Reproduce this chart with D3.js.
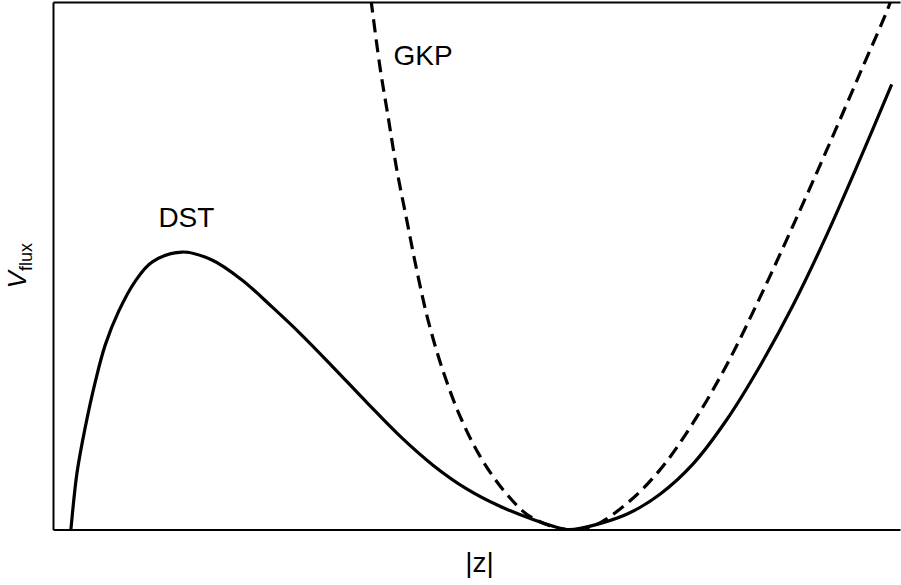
<!DOCTYPE html>
<html>
<head>
<meta charset="utf-8">
<script src="https://cdn.jsdelivr.net/npm/d3@7"></script>
<style>
  html, body { margin: 0; padding: 0; background: #fff; }
  svg { display: block; }
  text { font-family: "Liberation Sans", Arial, Helvetica, sans-serif; fill: #000; }
</style>
</head>
<body>
<script>
// Flux potential V_flux against |z| (arbitrary units, no ticks)
const dstZ = [0.0195, 0.0213, 0.0283, 0.0381, 0.0499, 0.0617, 0.0776, 0.0972, 0.1169, 0.1523,
              0.1877, 0.2231, 0.2586, 0.2916, 0.3306, 0.3704, 0.4097, 0.4486, 0.4884, 0.5277,
              0.5667, 0.6063, 0.6222, 0.6773, 0.7166, 0.7560, 0.7954, 0.8347, 0.8740, 0.9134,
              0.9528, 0.9902];
const dstV = [-0.029, 0.003, 0.107, 0.194, 0.280, 0.350, 0.414, 0.471, 0.507, 0.526,
              0.511, 0.473, 0.422, 0.372, 0.308, 0.241, 0.177, 0.122, 0.077, 0.044,
              0.019, 0.000, 0.002, 0.029, 0.067, 0.125, 0.208, 0.310, 0.426, 0.558,
              0.702, 0.844];

const gkpZ = [0.3722, 0.3754, 0.3861, 0.3959, 0.4058, 0.4176, 0.4294, 0.4431, 0.4608, 0.4805,
              0.5041, 0.5316, 0.5593, 0.5868, 0.6063, 0.6379, 0.6773, 0.7166, 0.7560, 0.7954,
              0.8347, 0.8740, 0.9134, 0.9528, 0.9882, 0.9941];
const gkpV = [1.042, 1.004, 0.876, 0.780, 0.683, 0.587, 0.492, 0.395, 0.299, 0.215,
              0.139, 0.075, 0.029, 0.007, 0.000, 0.007, 0.049, 0.113, 0.203, 0.312,
              0.440, 0.577, 0.719, 0.865, 0.998, 1.030];

const curveLabels = ["DST", "GKP"];
const labelAt = [[0.1575, 0.573], [0.4369, 0.880]];

const W = 901, H = 585;
const mLeft = 53, mRight = 900, mTop = 2, mBottom = 529.5;

const x = d3.scaleLinear().domain([0, 1]).range([mLeft, mRight]);
const y = d3.scaleLinear().domain([0, 1]).range([mBottom, mTop]);

const svg = d3.select("body").append("svg")
  .attr("width", W).attr("height", H)
  .attr("viewBox", `0 0 ${W} ${H}`);

svg.append("defs").append("clipPath").attr("id", "plot")
  .append("rect")
  .attr("x", mLeft).attr("y", mTop)
  .attr("width", mRight - mLeft + 10).attr("height", mBottom - mTop);

const line = d3.line()
  .x(d => x(d[0]))
  .y(d => y(d[1]))
  .curve(d3.curveCatmullRom.alpha(0.5));

const g = svg.append("g").attr("clip-path", "url(#plot)");

g.append("path")
  .datum(d3.zip(dstZ, dstV))
  .attr("d", line)
  .attr("fill", "none")
  .attr("stroke", "#000")
  .attr("stroke-width", 3.2);

g.append("path")
  .datum(d3.zip(gkpZ, gkpV))
  .attr("d", line)
  .attr("fill", "none")
  .attr("stroke", "#000")
  .attr("stroke-width", 3.2)
  .attr("stroke-dasharray", "13,7");

// Frame: bottom, top and left spines without ticks
svg.append("g").attr("transform", `translate(0,${mBottom})`)
  .call(d3.axisBottom(x).tickValues([]).tickSizeOuter(0));
svg.append("g").attr("transform", `translate(0,${mTop})`)
  .call(d3.axisTop(x).tickValues([]).tickSizeOuter(0));
svg.append("g").attr("transform", `translate(${mLeft},0)`)
  .call(d3.axisLeft(y).tickValues([]).tickSizeOuter(0));
svg.selectAll(".domain").attr("stroke", "#000").attr("stroke-width", 2);

// Curve names
svg.selectAll("text.curve-name")
  .data(curveLabels)
  .join("text")
  .attr("class", "curve-name")
  .attr("x", (d, i) => x(labelAt[i][0]))
  .attr("y", (d, i) => y(labelAt[i][1]))
  .attr("text-anchor", "middle")
  .attr("font-size", 28)
  .text(d => d);

// Axis titles
svg.append("text")
  .attr("x", (mLeft + mRight) / 2 + 3)
  .attr("y", 572)
  .attr("text-anchor", "middle")
  .attr("font-size", 28)
  .text("|z|");

const yt = svg.append("text")
  .attr("transform", `translate(26,${(mTop + mBottom) / 2}) rotate(-90)`)
  .attr("text-anchor", "middle")
  .attr("font-size", 26);
yt.append("tspan").attr("font-style", "italic").text("V");
yt.append("tspan").attr("font-size", 18).attr("dy", 6).text("flux");
</script>
</body>
</html>
